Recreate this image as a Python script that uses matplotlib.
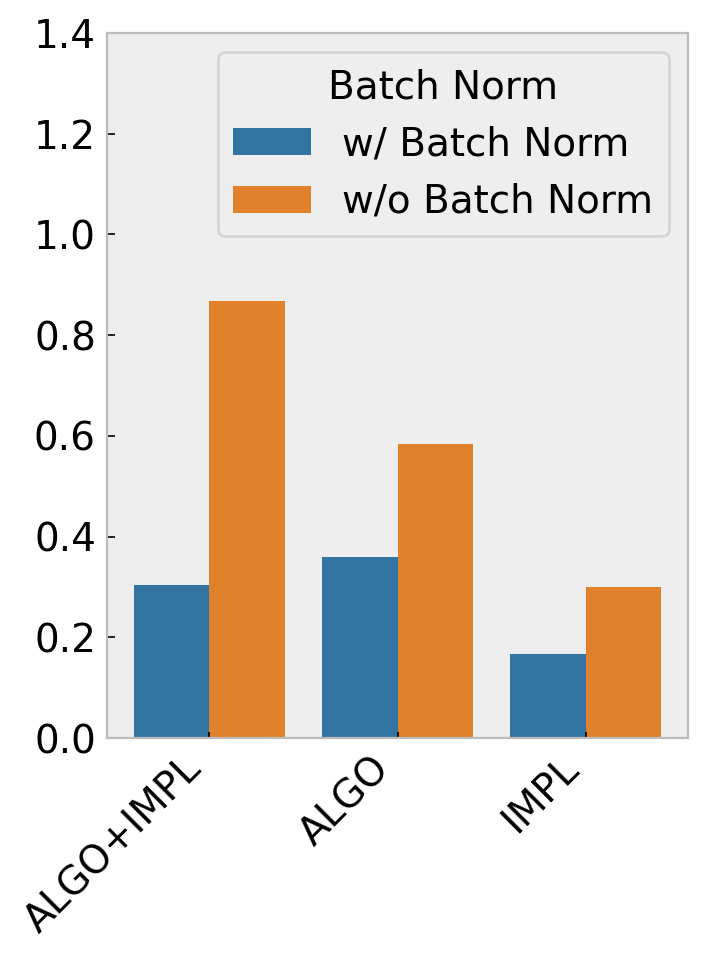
import matplotlib
matplotlib.use("Agg")
import matplotlib.pyplot as plt
import seaborn as sns
import pandas as pd

categories = ["ALGO+IMPL", "ALGO", "IMPL"]
with_bn = [0.304, 0.359, 0.167]
without_bn = [0.868, 0.584, 0.300]
series_names = ["w/ Batch Norm", "w/o Batch Norm"]
yticks = [0.0, 0.2, 0.4, 0.6, 0.8, 1.0, 1.2, 1.4]

df = pd.DataFrame({
    "cat": categories * 2,
    "val": with_bn + without_bn,
    "Batch Norm": [series_names[0]] * 3 + [series_names[1]] * 3,
})

plt.rcParams["font.family"] = ["DejaVu Sans"]
plt.rcParams["font.size"] = 14

fig = plt.figure(figsize=(7.06 / 2, 9.57 / 2), dpi=200)
ax = fig.add_axes([0.1516, 0.2288, 0.9745 - 0.1516, 0.9655 - 0.2288])
ax.set_facecolor("#eeeeee")
sns.barplot(data=df, x="cat", y="val", hue="Batch Norm", ax=ax, errorbar=None)
ax.grid(False)
for s in ax.spines.values():
    s.set_color("#bcbcbc")
    s.set_linewidth(0.8)
ax.set_ylim(0, 1.4)
ax.set_xlim(-0.545, 2.545)
ax.set_yticks(yticks)
ax.set_yticklabels([f"{t:.1f}" for t in yticks])
ax.tick_params(axis="both", direction="in", labelsize=14, color="black")
ax.tick_params(axis="y", length=3, width=0.6, pad=4)
ax.tick_params(axis="x", length=2, width=0.6, pad=4)
ax.set_xticks(range(len(categories)))
ax.set_xticklabels(categories, rotation=45, ha="right")
ax.set_xlabel("")
ax.set_ylabel("")
leg = ax.legend(title="Batch Norm", loc="upper right", fontsize=14, title_fontsize=14,
                facecolor="#eeeeee", edgecolor="#d5d5d5", framealpha=1.0)
fig.savefig("out.png", dpi=200)
